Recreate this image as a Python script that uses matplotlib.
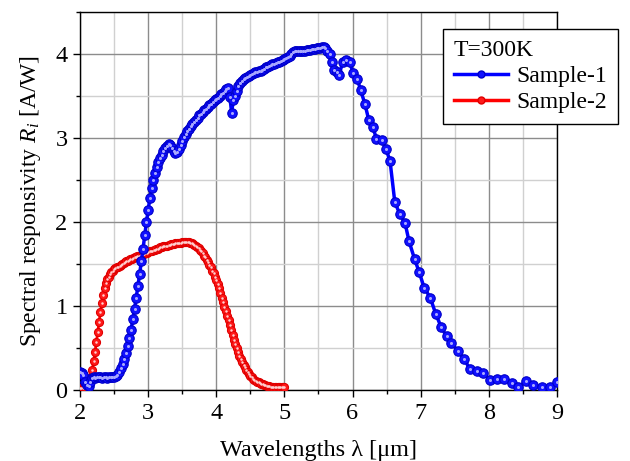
import numpy as np
import matplotlib
matplotlib.use("Agg")
import matplotlib.pyplot as plt
from matplotlib.lines import Line2D
from matplotlib.ticker import MultipleLocator

plt.rcParams['font.family'] = ['Liberation Serif', 'DejaVu Serif']
plt.rcParams['mathtext.fontset'] = 'custom'
plt.rcParams['mathtext.rm'] = 'Liberation Serif'
plt.rcParams['mathtext.it'] = 'Liberation Serif:italic'

# ---------------- data ----------------
# Sample-1 (blue): dense part 2.0 .. 5.6 step 0.025, then sparse points
s1_dense_x = np.round(np.arange(2.0, 5.6001, 0.025), 3)
s1_dense_y = [
    0.22, 0.20, 0.18, 0.10, 0.06, 0.05, 0.10, 0.14, 0.15, 0.14,
    0.15, 0.16, 0.15, 0.14, 0.15, 0.15, 0.14, 0.15, 0.16, 0.15,
    0.15, 0.17, 0.18, 0.22, 0.26, 0.31, 0.37, 0.44, 0.52, 0.62,
    0.72, 0.84, 0.97, 1.10, 1.24, 1.38, 1.53, 1.68, 1.84, 2.00,
    2.14, 2.28, 2.40, 2.50, 2.58, 2.65, 2.71, 2.76, 2.80, 2.84,
    2.88, 2.91, 2.93, 2.92, 2.88, 2.84, 2.82, 2.83, 2.87, 2.92,
    2.97, 3.01, 3.05, 3.08, 3.11, 3.14, 3.17, 3.19, 3.22, 3.24,
    3.27, 3.29, 3.31, 3.33, 3.35, 3.37, 3.39, 3.41, 3.43, 3.45,
    3.46, 3.48, 3.50, 3.52, 3.54, 3.56, 3.58, 3.60, 3.49, 3.30,
    3.45, 3.50, 3.56, 3.62, 3.66, 3.68, 3.70, 3.72, 3.73, 3.74,
    3.75, 3.76, 3.77, 3.78, 3.79, 3.80, 3.80, 3.81, 3.82, 3.84,
    3.85, 3.86, 3.87, 3.88, 3.88, 3.89, 3.90, 3.91, 3.92, 3.93,
    3.94, 3.95, 3.96, 3.98, 4.00, 4.02, 4.03, 4.03, 4.03, 4.03,
    4.03, 4.04, 4.04, 4.05, 4.05, 4.05, 4.06, 4.06, 4.06, 4.07,
    4.07, 4.07, 4.08, 4.08, 4.07,
]
s1_sparse_x = [5.63, 5.67, 5.70, 5.73, 5.77, 5.80, 5.86, 5.91, 5.96, 6.01,
               6.07, 6.12, 6.18, 6.24, 6.30, 6.35, 6.43, 6.49, 6.55, 6.62,
               6.69, 6.77, 6.83, 6.91, 6.98, 7.05, 7.14, 7.22, 7.30, 7.38,
               7.45, 7.55, 7.64, 7.72, 7.82, 7.92, 8.02, 8.12, 8.22, 8.34,
               8.43, 8.55, 8.65, 8.78, 8.90, 9.00]
s1_sparse_y = [4.04, 4.00, 3.90, 3.81, 3.78, 3.75, 3.91, 3.93, 3.90, 3.77,
               3.70, 3.57, 3.41, 3.21, 3.13, 2.99, 2.98, 2.87, 2.73, 2.24,
               2.10, 1.99, 1.77, 1.56, 1.40, 1.22, 1.10, 0.91, 0.75, 0.64,
               0.56, 0.46, 0.37, 0.25, 0.23, 0.20, 0.12, 0.13, 0.13, 0.08,
               0.03, 0.11, 0.06, 0.03, 0.03, 0.10]

# Sample-2 (red): 2.0 .. 5.0 step 0.02
s2_x = np.round(np.arange(2.0, 5.0001, 0.02), 2)
s2_y = [
    0.02, 0.02, 0.02, 0.03, 0.04, 0.05, 0.08, 0.11, 0.16, 0.24,
    0.34, 0.45, 0.57, 0.69, 0.81, 0.93, 1.04, 1.13, 1.21, 1.27,
    1.32, 1.35, 1.38, 1.40, 1.42, 1.44, 1.45, 1.46, 1.47, 1.48,
    1.49, 1.50, 1.51, 1.52, 1.53, 1.54, 1.55, 1.56, 1.56, 1.57,
    1.58, 1.58, 1.59, 1.60, 1.60, 1.61, 1.62, 1.62, 1.63, 1.63,
    1.64, 1.65, 1.65, 1.66, 1.67, 1.67, 1.68, 1.68, 1.69, 1.70,
    1.70, 1.71, 1.71, 1.72, 1.72, 1.73, 1.73, 1.74, 1.74, 1.74,
    1.75, 1.75, 1.75, 1.75, 1.75, 1.76, 1.76, 1.76, 1.76, 1.76,
    1.76, 1.75, 1.75, 1.74, 1.73, 1.72, 1.70, 1.69, 1.67, 1.65,
    1.63, 1.60, 1.58, 1.55, 1.52, 1.49, 1.46, 1.42, 1.39, 1.35,
    1.31, 1.26, 1.21, 1.16, 1.10, 1.05, 0.99, 0.94, 0.88, 0.83,
    0.77, 0.71, 0.66, 0.60, 0.55, 0.50, 0.45, 0.41, 0.37, 0.33,
    0.30, 0.27, 0.24, 0.21, 0.19, 0.17, 0.15, 0.13, 0.12, 0.11,
    0.10, 0.09, 0.08, 0.07, 0.07, 0.06, 0.06, 0.05, 0.05, 0.05,
    0.04, 0.04, 0.04, 0.04, 0.04, 0.03, 0.03, 0.03, 0.03, 0.03,
    0.03,
]

s1_x = np.concatenate([s1_dense_x, s1_sparse_x])
s1_y = np.concatenate([s1_dense_y, s1_sparse_y])

# ---------------- figure ----------------
fig = plt.figure(figsize=(6.3, 4.61), dpi=100)
ax = fig.add_axes([0.127, 0.154, 0.757, 0.820])

ax.set_xlim(2, 9)
ax.set_ylim(0, 4.5)
ax.xaxis.set_major_locator(MultipleLocator(1))
ax.xaxis.set_minor_locator(MultipleLocator(0.5))
ax.yaxis.set_major_locator(MultipleLocator(1))
ax.yaxis.set_minor_locator(MultipleLocator(0.5))
ax.grid(which='major', color='#8c8c8c', linewidth=1.0, zorder=0)
ax.grid(which='minor', color='#d0d0d0', linewidth=1.0, zorder=0)
ax.set_axisbelow(True)
ax.tick_params(which='major', direction='out', length=5, width=1, labelsize=17.5,
               color='black', pad=4)
ax.tick_params(which='minor', direction='out', length=3, width=1, color='black')
for sp in ax.spines.values():
    sp.set_color('black')
    sp.set_linewidth(1.0)

# Sample-2 (red)
ax.plot(s2_x, s2_y, '-', color='#ff0000', linewidth=2.0, zorder=2)
ax.plot(s2_x, s2_y, 'o', markersize=5.8, markerfacecolor='#ff1a1a',
        markeredgecolor='#e00000', markeredgewidth=0.8, zorder=3)
ax.plot(s2_x, s2_y, 'o', markersize=1.8, markerfacecolor='#ffd0d0',
        markeredgewidth=0, zorder=3.1)

# Sample-1 (blue)
ax.plot(s1_x, s1_y, '-', color='#0000ff', linewidth=2.5, zorder=4)
ax.plot(s1_x, s1_y, 'o', markersize=6.8, markerfacecolor='#1010ff',
        markeredgecolor='#0000c8', markeredgewidth=0.8, zorder=5)
ax.plot(s1_x, s1_y, 'o', markersize=2.2, markerfacecolor='#a8a8ff',
        markeredgewidth=0, zorder=5.1)

ax.set_xlabel('Wavelengths λ [μm]', fontsize=17.5, labelpad=12)
ax.set_ylabel('Spectral responsivity $R_i$ [A/W]', fontsize=17, labelpad=9)

handles = [
    Line2D([], [], color='#0000ff', linewidth=2.5, marker='o', markersize=5,
           markerfacecolor='#1010ff', markeredgecolor='#0000c8'),
    Line2D([], [], color='#ff0000', linewidth=2.5, marker='o', markersize=5,
           markerfacecolor='#ff1a1a', markeredgecolor='#e00000'),
]
leg = fig.legend(handles, ['Sample-1', 'Sample-2'], title='T=300K',
                 loc='upper left', bbox_to_anchor=(443 / 630, 1 - 29 / 461),
                 fontsize=17, title_fontsize=17, frameon=True, fancybox=False,
                 edgecolor='black', framealpha=1, handlelength=2.3,
                 handletextpad=0.35, borderpad=0.45, labelspacing=0.2,
                 borderaxespad=0)
leg._legend_box.align = 'left'
leg.get_frame().set_linewidth(1.0)

fig.savefig('out.png', dpi=100)
